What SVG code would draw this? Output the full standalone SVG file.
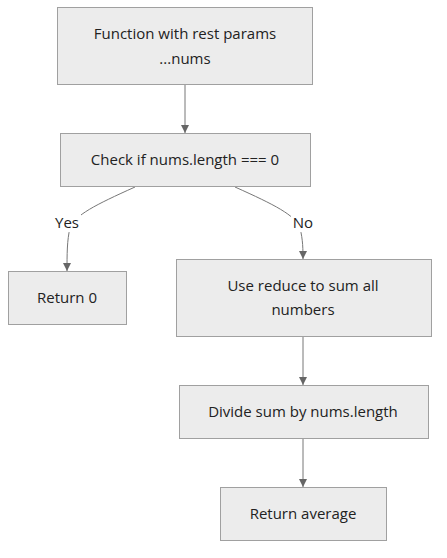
<svg xmlns="http://www.w3.org/2000/svg" width="447" height="558" viewBox="0 0 447 558">
<defs>
<marker id="arr" viewBox="0 0 10 10" refX="10" refY="5" markerWidth="8" markerHeight="8" markerUnits="userSpaceOnUse" orient="auto">
<path d="M0,0 L10,5 L0,10 z" fill="#666"/>
</marker>
<style>
.node rect{fill:#ececec;stroke:#a0a0a0;stroke-width:1}
text{font-family:"Open Sans","Liberation Sans",sans-serif;font-size:15px;fill:#222;text-anchor:middle;dominant-baseline:central}
.edge{fill:none;stroke:#777;stroke-width:1;marker-end:url(#arr)}
.lbl{fill:#fff}
</style>
</defs>
<rect width="447" height="558" fill="#fff"/>
<g id="edges">
<path class="edge" d="M185,84 L185,133"/>
<path class="edge" d="M135,187 C95,205 75,215 70,228 C67,240 67,255 67,271"/>
<path class="edge" d="M235,187 C275,205 295,215 300,228 C303,240 303,250 303,259"/>
<path class="edge" d="M303,336 L303,385"/>
<path class="edge" d="M303,438 L303,487"/>
<rect class="lbl" x="53" y="212" width="28" height="20"/>
<text x="67" y="222">Yes</text>
<rect class="lbl" x="291" y="212" width="24" height="20"/>
<text x="303" y="222">No</text>
</g>
<g id="n1" class="node"><rect x="57.5" y="7.5" width="255" height="77"/><text x="185" y="33">Function with rest params</text><text x="185" y="58">...nums</text></g>
<g id="n2" class="node"><rect x="60.5" y="133.5" width="250" height="53"/><text x="185" y="159">Check if nums.length === 0</text></g>
<g id="n3" class="node"><rect x="8.5" y="271.5" width="118" height="53"/><text x="67" y="297">Return 0</text></g>
<g id="n4" class="node"><rect x="176.5" y="259.5" width="255" height="77"/><text x="303" y="285">Use reduce to sum all</text><text x="303" y="309">numbers</text></g>
<g id="n5" class="node"><rect x="179.5" y="385.5" width="249" height="53"/><text x="303" y="411">Divide sum by nums.length</text></g>
<g id="n6" class="node"><rect x="220.5" y="487.5" width="166" height="53"/><text x="303" y="513">Return average</text></g>
</svg>
